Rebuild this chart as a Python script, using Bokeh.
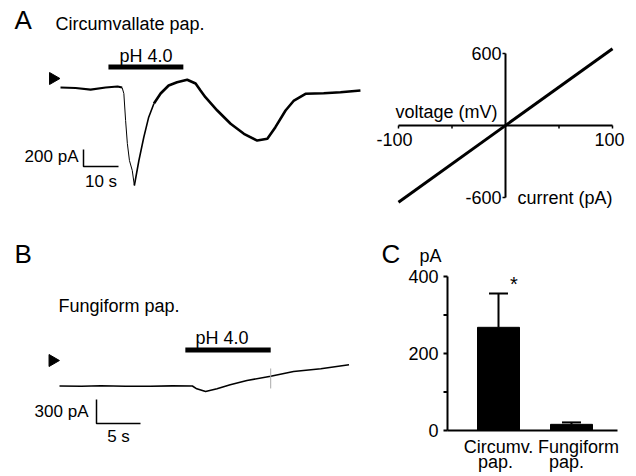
import math
from bokeh.plotting import figure
from bokeh.models import Range1d, Label
from bokeh.layouts import column, row
from bokeh.embed import file_html
from bokeh.resources import INLINE

# ---------------- data ----------------
# Panel A: circumvallate papilla current trace (s, pA)
A_time = [0, 4.3, 8.6, 12.9, 16.3, 17.6, 18.1, 18.6, 19.1, 19.7, 20.5, 21.1,
          22.4, 23.8, 25.2, 26.7, 28.6, 30.9, 33.3, 36.2, 38.6, 40.0, 41.4,
          44.8, 48.6, 52.4, 56.2, 59.1, 61.4, 64.3, 66.7, 70.0, 75.2, 80.0, 85.7]
A_current = [0, -6, -24, 0, 12, 0, -71, -388, -659, -859, -976, -1153,
             -859, -585, -349, -188, -71, 24, 62, 91, 47, -35, -114,
             -271, -427, -545, -624, -604, -467, -271, -153, -74, -67, -55, -35]
A_stim = [13.7, 35.1]          # pH 4.0 application (s)
A_scale = [10, 200]            # scale bar: 10 s, 200 pA

# Panel A (right): current-voltage relation
iv_current = [-100, 100]       # pA
iv_voltage = [-640, 640]       # mV
iv_xticks = [-100, -50, 0, 50, 100]
iv_xlabels = [-100, 100]
iv_yticks = [-600, 600]

# Panel B: fungiform papilla current trace (s, pA)
B_time = [0, 2.5, 4.7, 7.5, 10.3, 12.8, 15.1, 15.6, 16.6, 17.9, 19.4, 21.3,
          24.0, 26.6, 29.7, 32.9]
B_current = [0, -4, 3, -3, -4, 2, 0, -35, -69, -35, 15, 69,
             122, 181, 215, 265]
B_stim = [14.3, 24.0]
B_artifact_t = 24.0
B_artifact_i = [-31, 219]
B_scale = [5, 300]             # scale bar: 5 s, 300 pA

# Panel C: mean response amplitude
C_categories = ["Circumv. pap.", "Fungiform pap."]
C_means = [268, 16]
C_sem = [88, 5]
C_yticks = [0, 200, 400]
C_yminor = [100, 300]

FONT = "Liberation Sans"


class Frame:
    """Maps page pixels of a figure's frame to data units."""
    def __init__(self, box, x0px, xs, y0px, ys):
        self.box, self.x0px, self.xs, self.y0px, self.ys = box, x0px, xs, y0px, ys

    def x(self, X):
        return (X - self.x0px) / self.xs

    def y(self, Y):
        return (self.y0px - Y) / self.ys

    def ranges(self):
        X0, Y0, X1, Y1 = self.box
        return Range1d(self.x(X0), self.x(X1)), Range1d(self.y(Y1), self.y(Y0))


def make_fig(fr):
    X0, Y0, X1, Y1 = fr.box
    xr, yr = fr.ranges()
    p = figure(width=X1 - X0, height=Y1 - Y0, x_range=xr, y_range=yr,
               x_axis_type=None, y_axis_type=None, toolbar_location=None,
               output_backend="svg", outline_line_color=None, min_border=0)
    p.xgrid.visible = False
    p.ygrid.visible = False
    return p


def label(p, fr, X, Y, text, size="18px", align="left", baseline="middle", xdata=None, ydata=None):
    p.add_layout(Label(x=fr.x(X) if xdata is None else xdata,
                       y=fr.y(Y) if ydata is None else ydata, text=text,
                       text_font=FONT, text_font_size=size, text_align=align,
                       text_baseline=baseline, text_color="black"))


def triangle(p, fr, X, Y):
    p.scatter(x=[fr.x(X)], y=[fr.y(Y)], marker="triangle", size=12,
              angle=-math.pi / 2, color="black")


# ---------------- Panel A trace ----------------
frA = Frame((0, 0, 370, 225), 60, 3.5, 87, 17 / 200)
pA = make_fig(frA)
pieces = [(0, 6, 2.2), (5, 12, 1.0), (11, 16, 1.6), (15, len(A_time), 2.6)]
for a, b, w in pieces:
    pA.line(A_time[a:b], A_current[a:b], line_width=w, color="black")
ys = frA.y(66.5)
pA.line(A_stim, [ys, ys], line_width=5, color="black")
triangle(pA, frA, 52.5, 78)
cx, cy = frA.x(83), frA.y(166)
pA.line([cx, cx, cx + A_scale[0]], [cy + A_scale[1], cy, cy], line_width=1.5, color="black")
label(pA, frA, 14, 19, "A", size="26px")
label(pA, frA, 55, 23.5, "Circumvallate pap.")
label(pA, frA, 0, 55.5, "pH 4.0", align="center", xdata=sum(A_stim) / 2)
label(pA, frA, 78, 156, f"{A_scale[1]} pA", size="17px", align="right")
label(pA, frA, 0, 181, f"{A_scale[0]} s", size="17px", align="center", xdata=cx + A_scale[0] / 2)

# ---------------- Panel A: I-V plot ----------------
frV = Frame((370, 0, 636, 225), 505, 1.07, 125, 0.12)
pV = make_fig(frV)
pV.line([iv_xticks[0], iv_xticks[-1]], [0, 0], line_width=2, color="black")
pV.line([0, 0], [iv_yticks[0], iv_yticks[-1]], line_width=2, color="black")
tx = [t for t in iv_xticks if t != 0]
pV.segment(x0=tx, x1=tx, y0=[0] * len(tx), y1=[-3 / 0.12] * len(tx), line_width=1.5, color="black")
pV.segment(x0=[0] * len(iv_yticks), x1=[-3 / 1.07] * len(iv_yticks), y0=iv_yticks, y1=iv_yticks,
           line_width=1.5, color="black")
pV.line(iv_current, iv_voltage, line_width=3, color="black")
for v in iv_xlabels:
    label(pV, frV, 0, 139, str(v), align="center", xdata=v - (4 / 1.07 if v < 0 else 3 / 1.07))
for v in iv_yticks:
    label(pV, frV, 501, 0, str(v), align="right", ydata=v)
label(pV, frV, 497, 111.5, "voltage (mV)", align="right")
label(pV, frV, 517, 197.5, "current (pA)")

# ---------------- Panel B trace ----------------
frB = Frame((0, 225, 370, 476), 59, 8.8, 385.5, 24 / 300)
pB = make_fig(frB)
pB.line(B_time, B_current, line_width=1.6, color="black")
pB.line([B_artifact_t, B_artifact_t], B_artifact_i, line_width=1, color="#aaaaaa")
ysb = frB.y(349.5)
pB.line(B_stim, [ysb, ysb], line_width=5, color="black")
triangle(pB, frB, 52, 360)
bx, by = frB.x(96), frB.y(423)
pB.line([bx, bx, bx + B_scale[0]], [by + B_scale[1], by, by], line_width=1.5, color="black")
label(pB, frB, 14, 253, "B", size="26px")
label(pB, frB, 58, 305, "Fungiform pap.")
label(pB, frB, 221.5, 337.5, "pH 4.0", align="center")
label(pB, frB, 88, 411, f"{B_scale[1]} pA", size="17px", align="right")
label(pB, frB, 0, 436, f"{B_scale[0]} s", size="17px", align="center", xdata=bx + B_scale[0] / 2)

# ---------------- Panel C bar chart ----------------
frC = Frame((370, 225, 636, 476), 425, 73, 430, 154 / 400)
pC = make_fig(frC)
ax_x = frC.x(447)
ax_xr = frC.x(617)
# y axis (line, major/minor ticks, labels)
pC.line([ax_x, ax_x], [C_yticks[0], C_yticks[-1]], line_width=2, color="black")
tick_len = 4 / 73
allt = C_yticks + C_yminor
pC.segment(x0=[ax_x] * len(allt), x1=[ax_x - tick_len] * len(allt), y0=allt, y1=allt,
           line_width=2, color="black")
for v in C_yticks:
    label(pC, frC, 438, 0, str(v), align="right", ydata=v)
# x axis line
pC.line([ax_x, ax_xr], [0, 0], line_width=2, color="black")
pos = list(range(1, len(C_categories) + 1))
pC.vbar(x=pos, top=C_means, width=42 / 73, color="black")
tops = [m + s for m, s in zip(C_means, C_sem)]
pC.segment(x0=pos, x1=pos, y0=C_means, y1=tops, line_width=2, color="black")
pC.segment(x0=[p - 0.13 for p in pos], x1=[p + 0.13 for p in pos], y0=tops, y1=tops,
           line_width=2, color="black")
label_shift_px = [(0, -3), (7, -5)]   # horizontal nudge of the two label lines
for p_, cat, (s1, s2) in zip(pos, C_categories, label_shift_px):
    l1, l2 = cat.split(" ")
    label(pC, frC, 0, 446.5, l1, align="center", xdata=p_ + s1 / 73)
    label(pC, frC, 0, 461.5, l2, align="center", xdata=p_ + s2 / 73)
label(pC, frC, 381, 253, "C", size="26px")
label(pC, frC, 430, 255, "pA", align="center")
label(pC, frC, 513.5, 283, "*", size="20px", align="center", baseline="alphabetic")

layout = column(row(pA, pV), row(pB, pC))
open("out.html", "w").write(file_html(layout, INLINE))
